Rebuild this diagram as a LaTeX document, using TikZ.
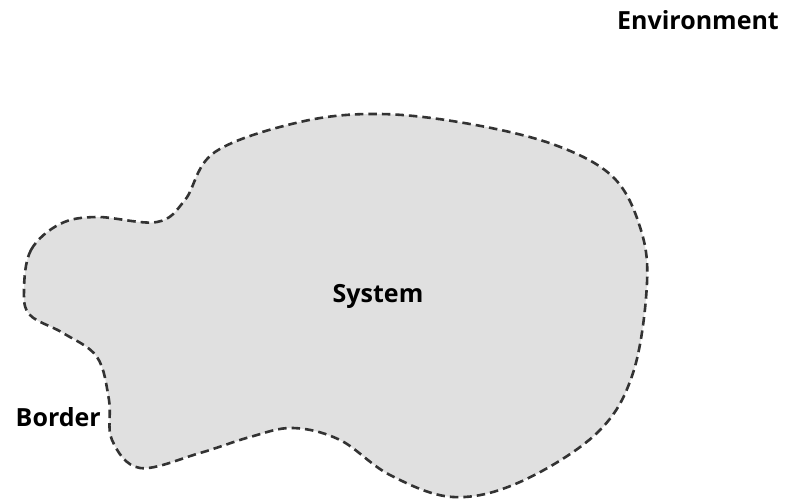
\documentclass[tikz,border=0pt]{standalone}
\usepackage{fontspec}
\setmainfont{Open Sans}
\definecolor{blobfill}{HTML}{E0E0E0}
\definecolor{blobline}{HTML}{333333}
\tikzset{
  lbl/.style={font=\fontsize{25}{28}\selectfont\bfseries, text=black, inner sep=0pt},
  blob/.style={fill=blobfill, draw=blobline, line width=2.6pt, dash pattern=on 8.5pt off 5pt}
}
\begin{document}
\begin{tikzpicture}[x=1pt,y=-1pt]
\useasboundingbox (0,0) rectangle (785,502);
\draw[blob] plot[smooth cycle, tension=0.6] coordinates {
 (24,290) (31,250) (60,224) (97,217) (157,222) (185,200) (215,152) (300,122) (380,114)
 (470,124) (555,145) (613,177) (640,227) (647,283) (633,373) (597,433)
 (520,482) (453,497) (390,475) (340,440) (293,428) (250,437) (200,453)
 (140,468) (112,440) (109,400) (97,357) (63,333) (30,315)};
\node[lbl] (env) at (698,20) {Environment};
\node[lbl] (sys) at (378,296) {System};
\node[lbl, anchor=east] (border) at (101,417) {Border};
\end{tikzpicture}
\end{document}
